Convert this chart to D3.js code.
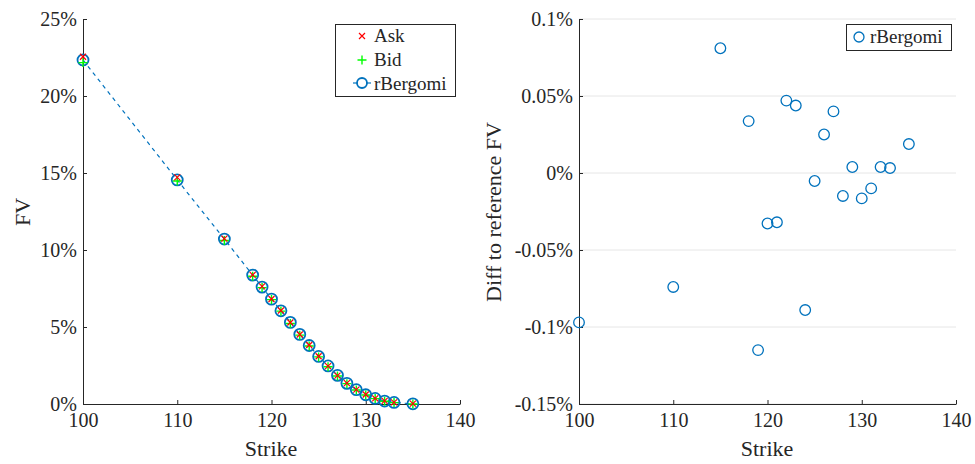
<!DOCTYPE html>
<html>
<head>
<meta charset="utf-8">
<script src="https://cdn.jsdelivr.net/npm/d3@7"></script>
<style>
  body { margin: 0; background: #fff; }
</style>
</head>
<body>
<div id="chart"></div>
<script>
// strikes shared by both panels
var strikes = [100, 110, 115, 118, 119, 120, 121, 122, 123, 124, 125, 126, 127, 128, 129, 130, 131, 132, 133, 135];
// fair values in %
var askFV = [22.55, 14.72, 10.74, 8.38, 7.64, 6.82, 6.07, 5.29, 4.51, 3.83, 3.10, 2.46, 1.84, 1.36, 0.93, 0.62, 0.37, 0.20, 0.11, 0.02];
var bidFV = [22.17, 14.48, 10.62, 8.30, 7.56, 6.78, 6.03, 5.23, 4.47, 3.77, 3.06, 2.42, 1.82, 1.32, 0.91, 0.58, 0.35, 0.18, 0.09, 0.00];
var rBergomiFV = [22.34, 14.55, 10.71, 8.37, 7.59, 6.81, 6.05, 5.30, 4.52, 3.80, 3.09, 2.47, 1.86, 1.34, 0.93, 0.60, 0.36, 0.19, 0.10, 0.01];
// difference to reference FV in %
var rBergomiDiff = [-0.097, -0.074, 0.081, 0.0337, -0.115, -0.0328, -0.032, 0.047, 0.0438, -0.089, -0.0052, 0.025, 0.040, -0.0149, 0.0039, -0.0165, -0.010, 0.0039, 0.0032, 0.0188];

var xTicks = [100, 110, 120, 130, 140];
var leftYTicks = [0, 5, 10, 15, 20, 25];
var rightYTicks = [-0.15, -0.1, -0.05, 0, 0.05, 0.1];

var blue = "#0072BD", axisCol = "#262626";
var serif = "Liberation Serif";

var svg = d3.select("#chart").append("svg")
  .attr("width", 975).attr("height", 464)
  .attr("font-family", serif);

function drawAxes(g, x, y, yTicks, yFmt, grid) {
  if (grid) {
    g.append("g").selectAll("line").data(yTicks).enter().append("line")
      .attr("x1", x.range()[0]).attr("x2", x.range()[1])
      .attr("y1", function(d) { return y(d); }).attr("y2", function(d) { return y(d); })
      .attr("stroke", "#e6e6e6").attr("stroke-width", 1);
  }
  var xa = g.append("g").attr("transform", "translate(0," + y.range()[0] + ")")
    .call(d3.axisBottom(x).tickValues(xTicks).tickSizeInner(-4).tickSizeOuter(0).tickPadding(9));
  var ya = g.append("g").attr("transform", "translate(" + x.range()[0] + ",0)")
    .call(d3.axisLeft(y).tickValues(yTicks).tickFormat(yFmt).tickSizeInner(-4).tickSizeOuter(0).tickPadding(6));
  [xa, ya].forEach(function(a) {
    a.attr("font-family", serif).attr("font-size", 20);
    a.selectAll("path").attr("stroke", axisCol).attr("stroke-width", 1);
    a.selectAll("line").attr("stroke", axisCol);
    a.selectAll("text").attr("fill", axisCol);
  });
}

// ---------- left panel ----------
var xL = d3.scaleLinear().domain([100, 140]).range([83, 460]);
var yL = d3.scaleLinear().domain([0, 25]).range([404, 19]);
var gL = svg.append("g");
drawAxes(gL, xL, yL, leftYTicks, function(d) { return d + "%"; }, false);

var line = d3.line()
  .x(function(d, i) { return xL(strikes[i]); })
  .y(function(d) { return yL(d); });
gL.append("path").datum(rBergomiFV).attr("d", line)
  .attr("fill", "none").attr("stroke", blue).attr("stroke-width", 1.2)
  .attr("stroke-dasharray", "4,4");

gL.append("g").selectAll("circle").data(rBergomiFV).enter().append("circle")
  .attr("cx", function(d, i) { return xL(strikes[i]); })
  .attr("cy", function(d) { return yL(d); })
  .attr("r", 5.5).attr("fill", "none").attr("stroke", blue).attr("stroke-width", 1.8);

function cross(g, cx, cy, s, col) {
  g.append("path").attr("d", "M" + (cx - s) + "," + (cy - s) + "L" + (cx + s) + "," + (cy + s) +
    "M" + (cx - s) + "," + (cy + s) + "L" + (cx + s) + "," + (cy - s))
    .attr("stroke", col).attr("stroke-width", 1.2);
}
function plus(g, cx, cy, s, col) {
  g.append("path").attr("d", "M" + (cx - s) + "," + cy + "L" + (cx + s) + "," + cy +
    "M" + cx + "," + (cy - s) + "L" + cx + "," + (cy + s))
    .attr("stroke", col).attr("stroke-width", 1.4);
}
var gm = gL.append("g");
bidFV.forEach(function(d, i) { plus(gm, xL(strikes[i]), yL(d), 4.5, "#00ff00"); });
askFV.forEach(function(d, i) { cross(gm, xL(strikes[i]), yL(d), 3, "#ff0000"); });

gL.append("text").attr("x", 271).attr("y", 456).attr("text-anchor", "middle")
  .attr("font-size", 22).attr("fill", axisCol).text("Strike");
gL.append("text").attr("transform", "translate(30,212) rotate(-90)")
  .attr("text-anchor", "middle").attr("font-size", 22).attr("fill", axisCol).text("FV");

// legend left
var lg = gL.append("g");
lg.append("rect").attr("x", 335.5).attr("y", 24.5).attr("width", 120).attr("height", 72)
  .attr("fill", "#fff").attr("stroke", axisCol).attr("stroke-width", 1);
cross(lg, 362, 36, 3, "#ff0000");
plus(lg, 362, 60, 4.5, "#00ff00");
lg.append("line").attr("x1", 353).attr("x2", 371).attr("y1", 83).attr("y2", 83)
  .attr("stroke", blue).attr("stroke-width", 1.2);
lg.append("circle").attr("cx", 362).attr("cy", 83).attr("r", 5)
  .attr("fill", "#fff").attr("stroke", blue).attr("stroke-width", 1.8);
var legNames = ["Ask", "Bid", "rBergomi"];
lg.selectAll("text.ln").data(legNames).enter().append("text").attr("class", "ln")
  .attr("x", 374).attr("y", function(d, i) { return 42 + i * 24; })
  .attr("font-size", 19).attr("fill", axisCol).text(function(d) { return d; });

// ---------- right panel ----------
var xR = d3.scaleLinear().domain([100, 140]).range([579, 956]);
var yR = d3.scaleLinear().domain([-0.15, 0.1]).range([404, 19]);
var gR = svg.append("g");
drawAxes(gR, xR, yR, rightYTicks, function(d) { return d + "%"; }, true);

gR.append("g").selectAll("circle").data(rBergomiDiff).enter().append("circle")
  .attr("cx", function(d, i) { return xR(strikes[i]); })
  .attr("cy", function(d) { return yR(d); })
  .attr("r", 5.3).attr("fill", "none").attr("stroke", blue).attr("stroke-width", 1.3);

gR.append("text").attr("x", 767).attr("y", 456).attr("text-anchor", "middle")
  .attr("font-size", 22).attr("fill", axisCol).text("Strike");
gR.append("text").attr("transform", "translate(501,212) rotate(-90)")
  .attr("text-anchor", "middle").attr("font-size", 22).attr("fill", axisCol).text("Diff to reference FV");

var rg = gR.append("g");
rg.append("rect").attr("x", 846.5).attr("y", 24.5).attr("width", 105).attr("height", 26)
  .attr("fill", "#fff").attr("stroke", axisCol).attr("stroke-width", 1);
rg.append("circle").attr("cx", 859).attr("cy", 37).attr("r", 5)
  .attr("fill", "none").attr("stroke", blue).attr("stroke-width", 1.3);
rg.append("text").attr("x", 870).attr("y", 43).attr("font-size", 19).attr("fill", axisCol).text("rBergomi");
</script>
</body>
</html>
